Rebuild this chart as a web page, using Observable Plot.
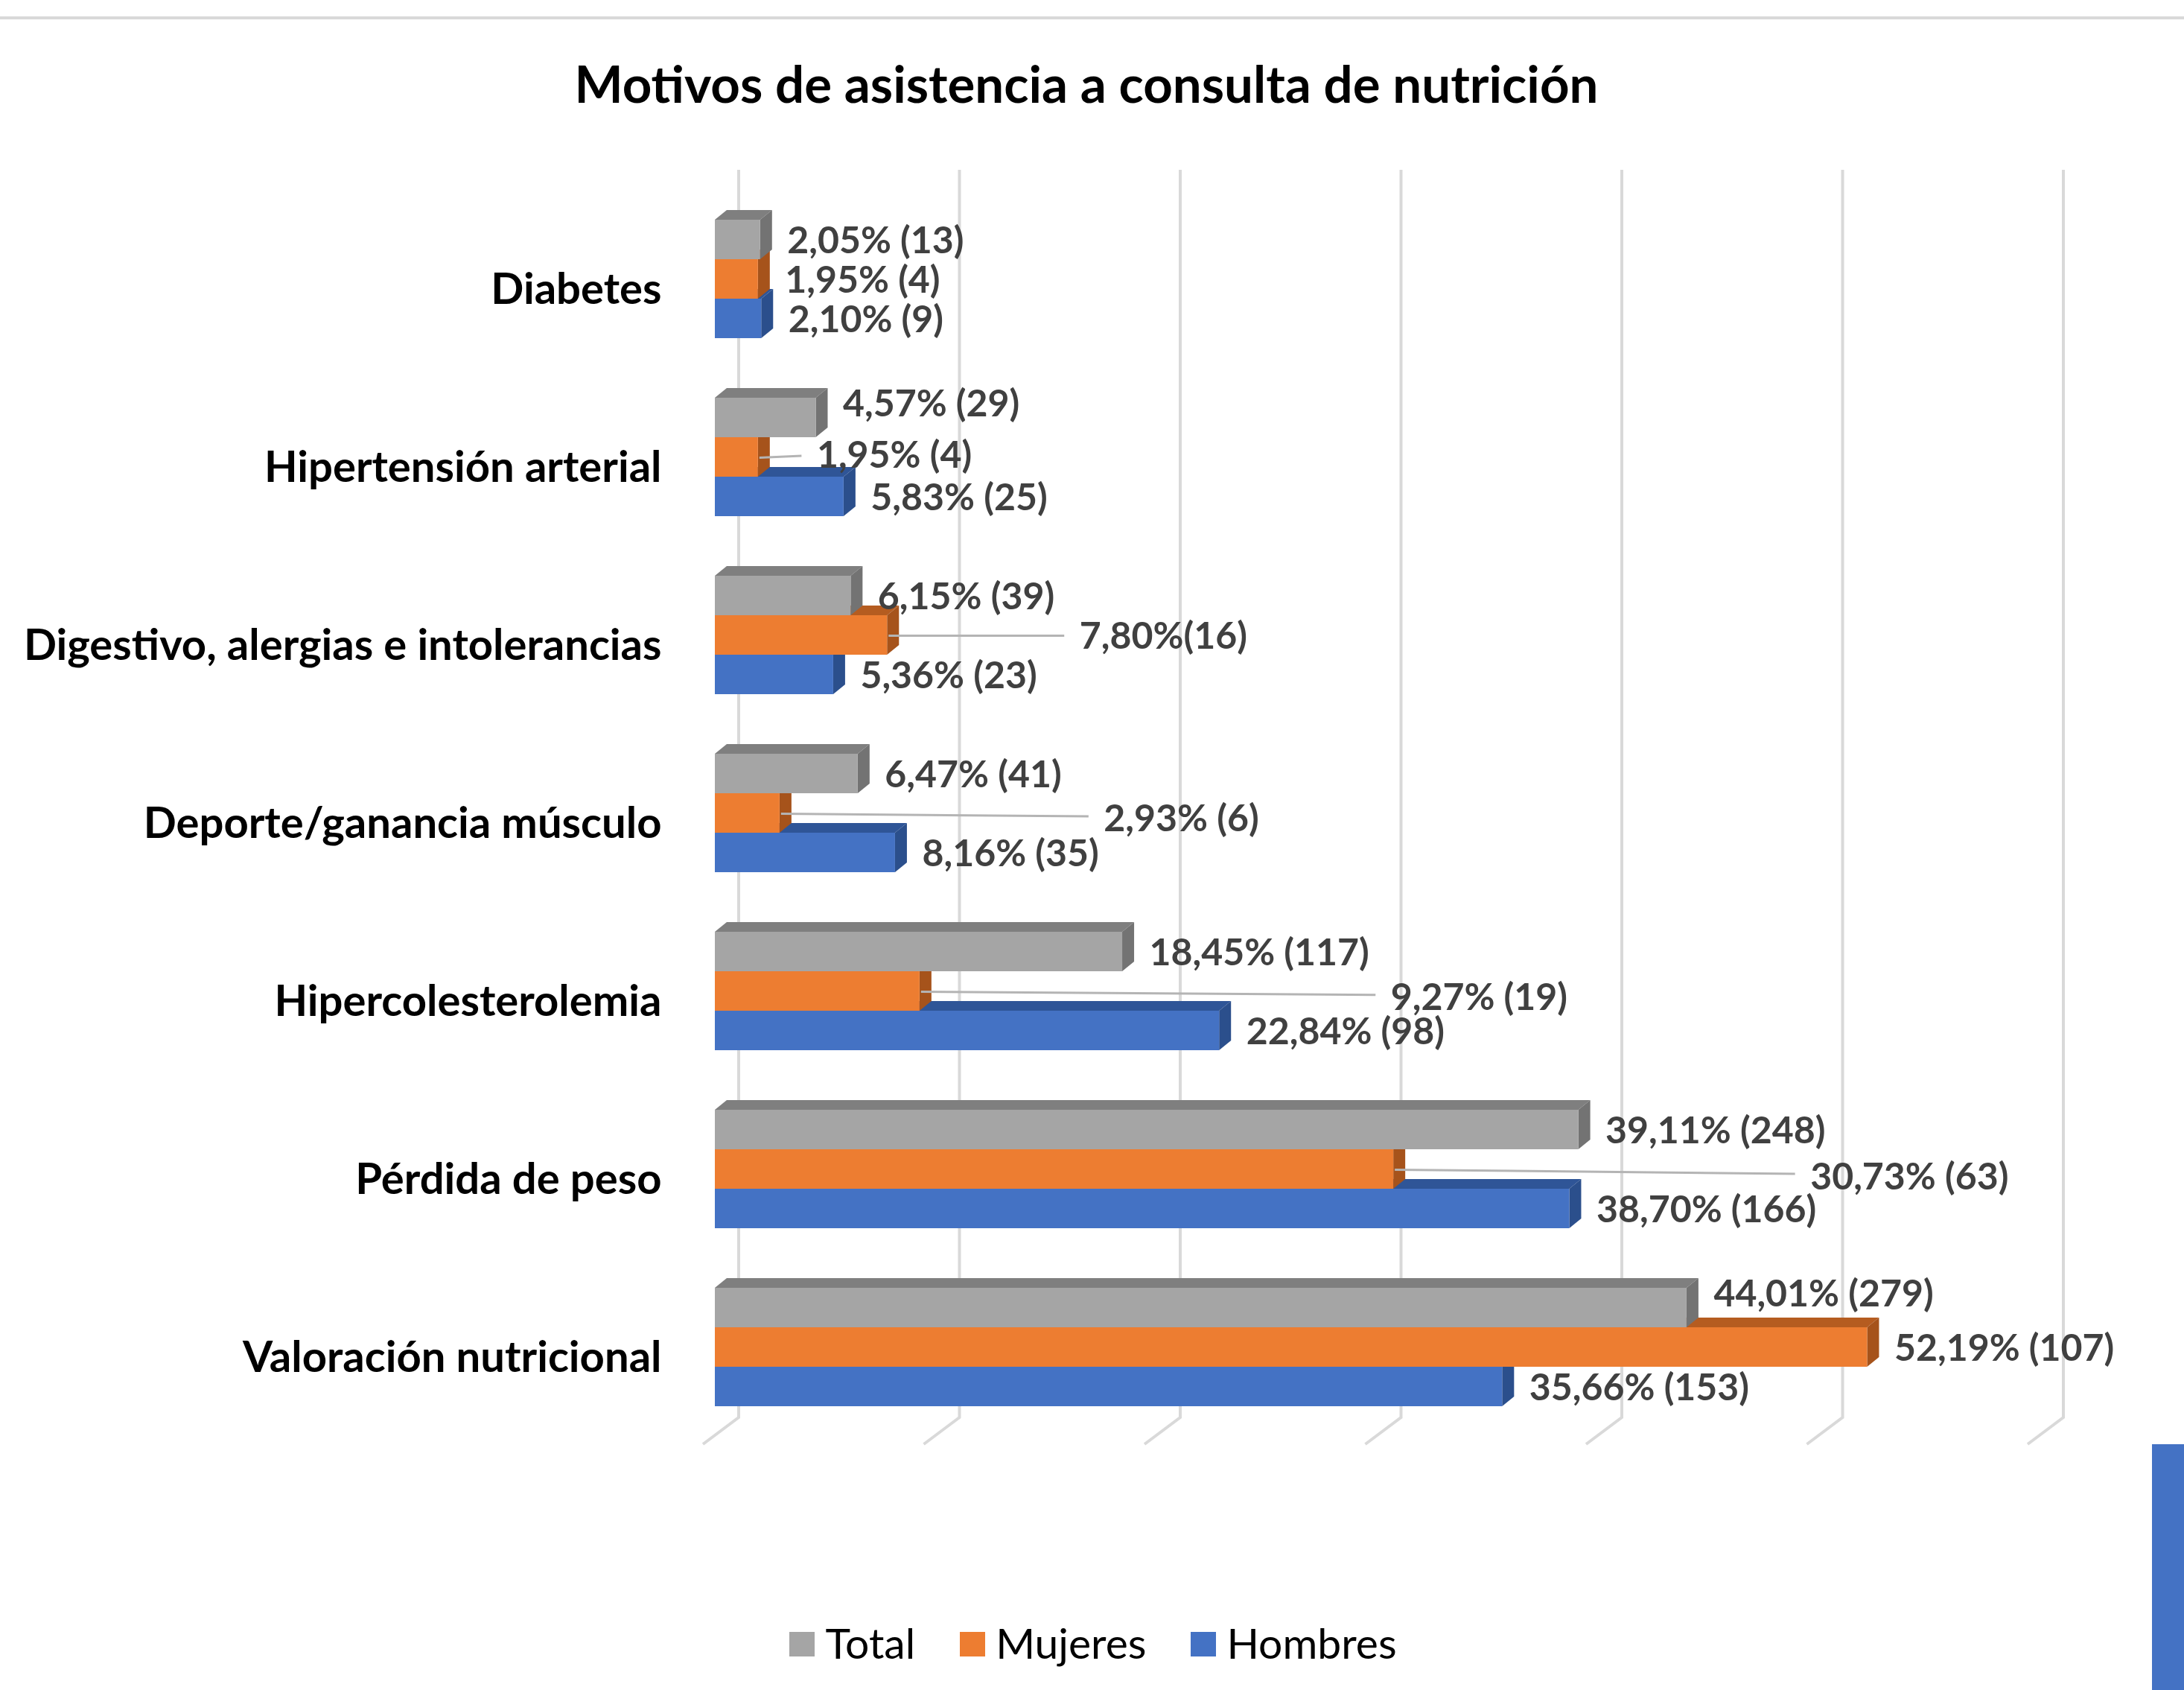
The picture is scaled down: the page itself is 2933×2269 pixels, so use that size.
<!DOCTYPE html>
<html>
<head>
<meta charset="utf-8">
<script src="https://cdn.jsdelivr.net/npm/d3@7"></script>
<script src="https://cdn.jsdelivr.net/npm/@observablehq/plot@0.6"></script>
<style>
  html, body { margin: 0; padding: 0; background: #fff; }
  #page { position: relative; width: 2933px; height: 2269px; overflow: hidden; background: #fff; font-family: Lato, "Open Sans", sans-serif; }
  #topline { position: absolute; left: 0; top: 22px; width: 100%; height: 4px; background: #d9d9d9; }
  #title { position: absolute; left: 0; width: 2918px; top: 71px; margin: 0; text-align: center; font-weight: 700; font-size: 69px; line-height: 1.2; color: #000; white-space: nowrap; }
  #chart { position: absolute; left: 0; top: 200px; }
  #legend { position: absolute; left: 0; width: 2936px; top: 2171px; display: flex; justify-content: center; align-items: center; font-size: 57px; line-height: 1.2; color: #000; }
  .item { display: flex; align-items: center; margin: 0 30px; }
  .sw { width: 34px; height: 33px; margin-right: 14px; position: relative; top: 2px; }
  #corner { position: absolute; left: 2890px; top: 1939px; width: 43px; height: 330px; background: #4472c4; }
</style>
</head>
<body>
<div id="page">
  <div id="topline"></div>
  <h1 id="title">Motivos de asistencia a consulta de nutrición</h1>
  <div id="chart"></div>
  <div id="legend"></div>
  <div id="corner"></div>
</div>
<script>
// ---------------- data ----------------
const categories = [
  "Diabetes",
  "Hipertensión arterial",
  "Digestivo, alergias e intolerancias",
  "Deporte/ganancia músculo",
  "Hipercolesterolemia",
  "Pérdida de peso",
  "Valoración nutricional"
];
const series = ["Total", "Mujeres", "Hombres"];
const totalPct   = [2.05, 4.57, 6.15, 6.47, 18.45, 39.11, 44.01];
const totalN     = [13, 29, 39, 41, 117, 248, 279];
const mujeresPct = [1.95, 1.95, 7.80, 2.93, 9.27, 30.73, 52.19];
const mujeresN   = [4, 4, 16, 6, 19, 63, 107];
const hombresPct = [2.10, 5.83, 5.36, 8.16, 22.84, 38.70, 35.66];
const hombresN   = [9, 25, 23, 35, 98, 166, 153];
const gridTicks  = [0, 10, 20, 30, 40, 50, 60];

// ---------------- styling / annotation config ----------------
const shades = { // front, top, side
  Total:   ["#a5a5a5", "#7f7f7f", "#737373"],
  Mujeres: ["#ed7d31", "#b55c20", "#a6531b"],
  Hombres: ["#4472c4", "#2f5597", "#2b4f8c"]
};
const DX = 16, DY = 13;           // 3-D depth of the bars
const GRID_DX = 32;               // back wall offset of gridlines
// Mujeres labels that were dragged away from their bar: [label start in % units, vertical nudge px]
const movedLabels = {
  "Hipertensión arterial": [4.6, -4],
  "Digestivo, alergias e intolerancias": [16.5, 0],
  "Deporte/ganancia músculo": [17.6, 6],
  "Hipercolesterolemia": [30.6, 7],
  "Pérdida de peso": [49.6, 9]
};
const raisedTotal = new Set(["Hipertensión arterial", "Valoración nutricional"]);
const tightLabel = new Set(["Digestivo, alergias e intolerancias|Mujeres"]);

const pcts = [totalPct, mujeresPct, hombresPct];
const counts = [totalN, mujeresN, hombresN];
const fmt = v => v.toFixed(2).replace(".", ",") + "%";
const rows = categories.flatMap((c, i) => series.map((s, k) => {
  const mv = s === "Mujeres" ? movedLabels[c] : undefined;
  return {
    category: c, serie: s, k,
    value: pcts[k][i], n: counts[k][i],
    label: fmt(pcts[k][i]) + (tightLabel.has(c + "|" + s) ? "" : " ") + "(" + counts[k][i] + ")",
    lx: mv ? mv[0] : undefined,
    nudge: mv ? mv[1] : 0,
    raised: s === "Total" && raisedTotal.has(c)
  };
}));

// ---------------- layout ----------------
const W = 2933, H = 1800, MT = 12, MB = 28, ML = 960, MR = 194, PAD = 1 / 3;
const slot = ((H - MT - MB) / (categories.length + PAD)) * (1 - PAD) / series.length;

// gridlines on the back wall with the floor diagonal
function gridMark(index, scales) {
  const {x, y} = scales;
  const bw = y.bandwidth();
  const top = y(categories[0]) - 67;
  const bottom = y(categories[categories.length - 1]) + bw + 15;
  const g = d3.create("svg:g").attr("fill", "none").attr("stroke", "#d9d9d9").attr("stroke-width", 4);
  for (const t of gridTicks) {
    const xt = x(t);
    g.append("path").attr("d", `M${xt + GRID_DX},${top}V${bottom}L${xt - 16},${bottom + 36}`);
  }
  return g.node();
}

// 3-D bars
function barsMark(index, scales) {
  const {x, y} = scales;
  const h = y.bandwidth() / series.length;
  const g = d3.create("svg:g");
  const order = rows.slice().sort((a, b) => d3.descending(a.k, b.k));
  for (const r of order) {
    const x0 = x(0), x1 = x(r.value);
    const y0 = y(r.category) + r.k * h, y1 = y0 + h;
    const [front, top, side] = shades[r.serie];
    g.append("path").attr("fill", top)
      .attr("d", `M${x0},${y0}L${x0 + DX},${y0 - DY}L${x1 + DX},${y0 - DY}L${x1},${y0}Z`);
    g.append("path").attr("fill", side)
      .attr("d", `M${x1},${y0}L${x1 + DX},${y0 - DY}L${x1 + DX},${y1 - DY}L${x1},${y1}Z`);
    g.append("rect").attr("fill", front)
      .attr("x", x0).attr("y", y0).attr("width", x1 - x0).attr("height", h);
  }
  return g.node();
}

// leader lines for moved labels
function leaderMark(index, scales) {
  const {x, y} = scales;
  const bw = y.bandwidth();
  const g = d3.create("svg:g").attr("stroke", "#b4b4b4").attr("stroke-width", 3).attr("fill", "none");
  for (const r of rows.filter(r => r.lx !== undefined)) {
    const yc = y(r.category) + bw / 2 + 1;
    g.append("path").attr("d", `M${x(r.value) + 2},${yc}L${x(r.lx) - 20},${yc + r.nudge * 0.6}`);
  }
  return g.node();
}

const labelStyle = {fontSize: 50, fontWeight: "bold", fill: "#404040", textAnchor: "start"};
const normal = rows.filter(r => r.lx === undefined && !r.raised);
const moved = rows.filter(r => r.lx !== undefined);

const chart = Plot.plot({
  width: W, height: H,
  marginTop: MT, marginBottom: MB, marginLeft: ML, marginRight: MR,
  style: {fontFamily: "Lato, 'Open Sans', sans-serif", background: "transparent", overflow: "visible"},
  x: {domain: [0, 60], axis: null},
  y: {type: "band", domain: categories, padding: PAD, axis: null},
  marks: [
    gridMark,
    barsMark,
    leaderMark,
    ...series.map((s, k) => Plot.text(normal.filter(r => r.k === k), {
      x: "value", y: "category", text: "label", dx: 36, dy: (k - 1) * slot + 2, ...labelStyle
    })),
    Plot.text(rows.filter(r => r.raised), {
      x: "value", y: "category", text: "label", dx: 36, dy: -slot - 18, ...labelStyle
    }),
    ...moved.map(r => Plot.text([r], {
      x: "lx", y: "category", text: "label", dy: r.nudge + 2, ...labelStyle
    })),
    Plot.text(categories, {
      y: d => d, text: d => d, frameAnchor: "left", textAnchor: "end",
      dx: -72, dy: 14, fontSize: 58, fontWeight: "bold", fill: "#000"
    })
  ]
});
document.getElementById("chart").appendChild(chart);

// legend
const legend = document.getElementById("legend");
for (const s of series) {
  const item = document.createElement("div");
  item.className = "item";
  const sw = document.createElement("div");
  sw.className = "sw";
  sw.style.background = shades[s][0];
  const t = document.createElement("span");
  t.textContent = s;
  item.appendChild(sw);
  item.appendChild(t);
  legend.appendChild(item);
}
</script>
</body>
</html>
